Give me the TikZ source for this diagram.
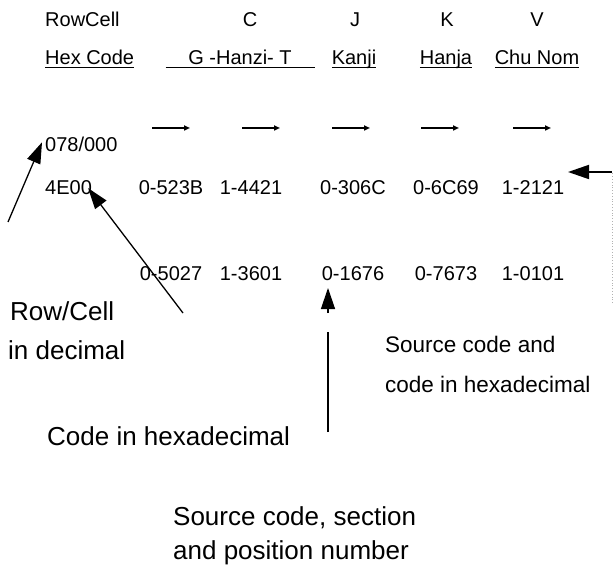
\documentclass[tikz,border=0pt]{standalone}
\usepackage{fontspec}
\setmainfont{Liberation Sans}
\usetikzlibrary{arrows.meta}
\newcommand{\hdrline}[1]{\setbox0\hbox{#1}\rlap{\rule[-3.5pt]{\wd0}{1.1pt}}\box0}

\begin{document}
\begin{tikzpicture}[x=1pt,y=-1pt,
	small/.style={inner sep=0pt,font=\fontsize{20}{24}\selectfont},
	big/.style={inner sep=0pt,font=\fontsize{26}{30}\selectfont},
	mid/.style={inner sep=0pt,font=\fontsize{22.5}{27}\selectfont},
	pointer/.style={line width=1.3pt,-{Triangle[length=21pt,width=14pt]}},
	shiftarrow/.style={line width=1.8pt,-{Triangle[length=6pt,width=5pt]}}]
	\useasboundingbox (0,0) rectangle (616,572);
	% headings
	\node[small,anchor=base west] (rowcell) at (45,27) {RowCell};
	\foreach \x/\t in {250/C,355/J,447/K,537/V}
		\node[small,anchor=base] (top-\t) at (\x,27) {\t};
	\node[small,anchor=base west] (hexcode) at (45,65) {\hdrline{Hex Code}};
	\foreach \x/\t/\n in {240/{\makebox[149pt]{G -Hanzi- T}}/g,354/Kanji/j,446/Hanja/k,537/Chu Nom/v}
		\node[small,anchor=base] (lang-\n) at (\x,65) {\hdrline{\t}};
	% short arrows
	\foreach \x [count=\i] in {171,261,351,440,532} {
		\coordinate (sa-\i) at (\x-19,128);
		\coordinate (sb-\i) at (\x+19,128);
		\draw[shiftarrow] (sa-\i) -- (sb-\i);
	}
	% code rows
	\node[small,anchor=base west] (rowcol) at (45,152) {078/000};
	\node[small,anchor=base west] (ucs) at (45,195) {4E00};
	\foreach \x/\a/\b [count=\i] in {171/0-523B/0-5027,251/1-4421/1-3601,353/0-306C/0-1676,446/0-6C69/0-7673,533/1-2121/1-0101} {
		\node[small,anchor=base] (hex-\i) at (\x,195) {\a};
		\node[small,anchor=base] (src-\i) at (\x,280) {\b};
	}
	% notes
	\node[big,anchor=base west] (rc-1) at (10,320) {Row/Cell};
	\node[big,anchor=base west] (rc-2) at (8,359) {in decimal};
	\node[big,anchor=base west] (hx) at (47,445) {Code in hexadecimal};
	\node[mid,anchor=base west] (sc-1) at (385,352) {Source code and};
	\node[mid,anchor=base west] (sc-2) at (385,392) {code in hexadecimal};
	\node[big,anchor=base west] (sp-1) at (173,525) {Source code, section};
	\node[big,anchor=base west] (sp-2) at (173,559) {and position number};
	% pointers
	\coordinate (rc-tail) at (8,222);
	\draw[pointer] (rc-tail) -- ([shift={(-3,5)}]rowcol.north west);
	\coordinate (hx-tail) at (183,313);
	\draw[pointer] (hx-tail) -- ([xshift=-4pt]ucs.east);
	\coordinate (sp-foot) at (328,432);
	\coordinate (sp-top) at (328,332);
	\coordinate (sp-gap) at (328,313);
	\coordinate (sp-tip) at (328,288);
	\draw[line width=1.6pt] (sp-foot) -- (sp-top);
	\draw[pointer] (sp-gap) -- (sp-tip);
	\coordinate (sc-foot) at (612,303);
	\coordinate (sc-corner) at (612,172);
	\coordinate (sc-tip) at (568,172);
	\draw[gray!60,dotted,thick] (sc-foot) -- (sc-corner);
	\draw[pointer,line width=1.8pt] (sc-corner) -- (sc-tip);
\end{tikzpicture}
\end{document}
